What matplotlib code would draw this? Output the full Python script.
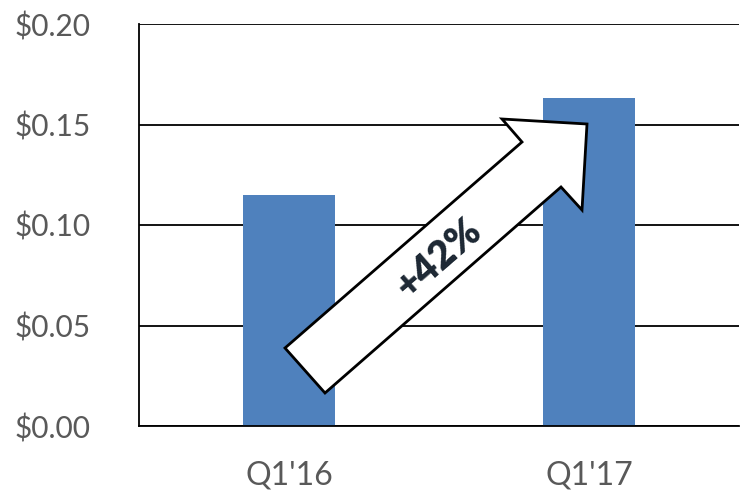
import matplotlib
matplotlib.use("Agg")
import matplotlib.pyplot as plt
from matplotlib.patches import Polygon
from matplotlib.ticker import FuncFormatter

categories = ["Q1'16", "Q1'17"]
values = [0.115, 0.163]
yticks = [0.00, 0.05, 0.10, 0.15, 0.20]
growth_label = "+42%"

plt.rcParams['font.family'] = ['Lato', 'DejaVu Sans']

fig = plt.figure(figsize=(7.45, 4.91), dpi=100)
W, H = 745, 491
L, R, T, B = 139, 739, 24, 426
ax = fig.add_axes([L / W, 1 - B / H, (R - L) / W, (B - T) / H])

x = list(range(len(categories)))
ax.bar(x, values, width=0.307, color="#4f81bd", zorder=2)
ax.set_xlim(-0.5, 1.5)
ax.set_ylim(0, 0.20)
ax.set_yticks(yticks)
ax.yaxis.set_major_formatter(FuncFormatter(lambda v, p: f"${v:.2f}"))
ax.set_xticks(x)
ax.set_xticklabels(categories)
ax.grid(axis="y", color="black", linewidth=1.3, zorder=1)
ax.set_axisbelow(True)
for s in ["top", "right"]:
    ax.spines[s].set_visible(False)
for s in ["left", "bottom"]:
    ax.spines[s].set_color("black")
    ax.spines[s].set_linewidth(1.3)
ax.tick_params(axis="y", length=0, labelsize=21.5, labelcolor="#595959", pad=35)
ax.tick_params(axis="x", length=0, labelsize=23, labelcolor="#595959", pad=25)

# Arrow annotation (pixel outline converted to axes fraction)
pts_px = [(285, 348), (522, 142), (502, 119), (587, 124), (582, 210),
          (561, 187), (325, 393)]
pts = [((px - L) / (R - L), (B - py) / (B - T)) for px, py in pts_px]
arrow = Polygon(pts, closed=True, transform=ax.transAxes, facecolor="white",
                edgecolor="black", linewidth=2, zorder=5, clip_on=False)
ax.add_patch(arrow)
ax.text((439 - L) / (R - L), (B - 258) / (B - T), growth_label,
        transform=ax.transAxes, rotation=41, ha="center", va="center",
        fontsize=28, fontweight="heavy", color="#1c2733", zorder=6)

fig.savefig("out.png", dpi=100)
